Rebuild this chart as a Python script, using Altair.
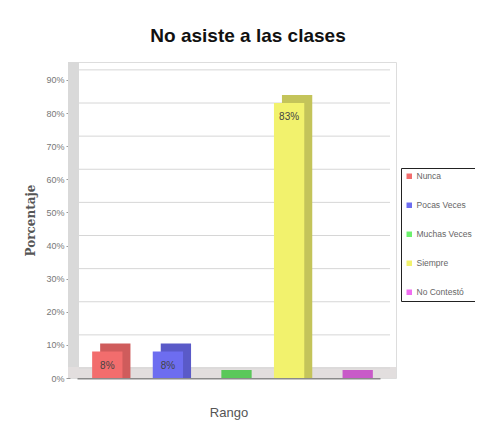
import altair as alt
import pandas as pd

categorias = ["Nunca", "Pocas Veces", "Muchas Veces", "Siempre", "No Contestó"]
valores = [8, 8, 0, 83, 0]
etiquetas = ["8%", "8%", "", "83%", ""]
colores = ["#f26d6d", "#6d6df0", "#6df06d", "#f2f26d", "#f06df0"]
sombras = ["#cf5c5c", "#5a5ac8", "#5ac85a", "#c4c45a", "#c85ac8"]
marcas_y = [0, 10, 20, 30, 40, 50, 60, 70, 80, 90]

W, H = 326, 316
FONT = "Liberation Sans"

df = pd.DataFrame({"cat": categorias, "val": valores, "lab": etiquetas, "sombra": sombras})
grid_df = pd.DataFrame({"v": marcas_y})
one = pd.DataFrame({"a": [0]})

xs = alt.Scale(domain=categorias, range=[7, 310], paddingInner=0.5, paddingOuter=0.25)
ys = alt.Scale(domain=[0, 95.4], nice=False, zero=True)

y_axis = alt.Axis(values=marcas_y, labelExpr="datum.value + '%'", title="Porcentaje",
                  titleFont="DejaVu Serif", titleFontSize=12, titleFontWeight="bold",
                  titleColor="#555", titlePadding=8, labelFont=FONT, labelFontSize=9,
                  labelColor="#777", tickColor="#999", tickSize=4, domain=False,
                  grid=False, labelPadding=2, labelOverlap=False)

x_enc = alt.X("cat:N", scale=xs, sort=categorias,
              axis=alt.Axis(labels=False, ticks=False, title="Rango", titleFont=FONT,
                            titleFontSize=13, titleFontWeight="normal", titleColor="#555",
                            titlePadding=28, domainColor="#8a8a8a", domainWidth=2))

# walls
left_wall = alt.Chart(one).mark_rect(color="#d9d9d9").encode(
    x=alt.value(-2), x2=alt.value(9), y=alt.value(0), y2=alt.value(H))
floor = alt.Chart(one).mark_rect(color="#e2dede").encode(
    x=alt.value(-2), x2=alt.value(W), y=alt.value(H - 11), y2=alt.value(H))

grid = alt.Chart(grid_df).mark_rule(color="#d6d6d6", strokeWidth=1, yOffset=-10).encode(
    y=alt.Y("v:Q", scale=ys, axis=y_axis),
    x=alt.value(9), x2=alt.value(W - 6))

shade = alt.Chart(df).mark_bar(xOffset=8, yOffset=-8, y2Offset=0).encode(
    x=x_enc,
    y=alt.Y("val:Q", scale=ys, axis=y_axis),
    y2=alt.datum(0),
    color=alt.Color("sombra:N", scale=None, legend=None))

front = alt.Chart(df).mark_bar().encode(
    x=x_enc,
    y=alt.Y("val:Q", scale=ys, axis=y_axis),
    color=alt.Color("cat:N", sort=categorias,
                    scale=alt.Scale(domain=categorias, range=colores),
                    legend=alt.Legend(title=None, orient="none", legendX=331, legendY=106,
                                      symbolType="square", symbolSize=30, symbolStrokeWidth=0,
                                      labelFont=FONT, labelFontSize=8.5, labelColor="#666",
                                      labelOffset=3, rowPadding=20, padding=4,
                                      strokeColor="#222", fillColor="white", labelLimit=90)))

text = alt.Chart(df).mark_text(baseline="top", dy=9, font=FONT, fontSize=10, color="#444").encode(
    x=alt.X("cat:N", scale=xs, sort=categorias),
    y=alt.Y("val:Q", scale=ys, axis=y_axis),
    text="lab:N")

chart = alt.layer(left_wall, floor, grid, shade, front, text).resolve_scale(
    color="independent"
).properties(
    width=W, height=H,
    title=alt.Title("No asiste a las clases", font=FONT, fontSize=19, fontWeight="bold",
                    color="#111", offset=16, dx=15),
    autosize=alt.AutoSizeParams(type="none"),
    padding={"left": 62, "top": 54, "right": 79, "bottom": 48},
).configure_view(fill="#c2c2c2", stroke="#a8a8a8").configure(background="white")

chart.save("out.html", embed_options={"renderer": "svg", "actions": False})
